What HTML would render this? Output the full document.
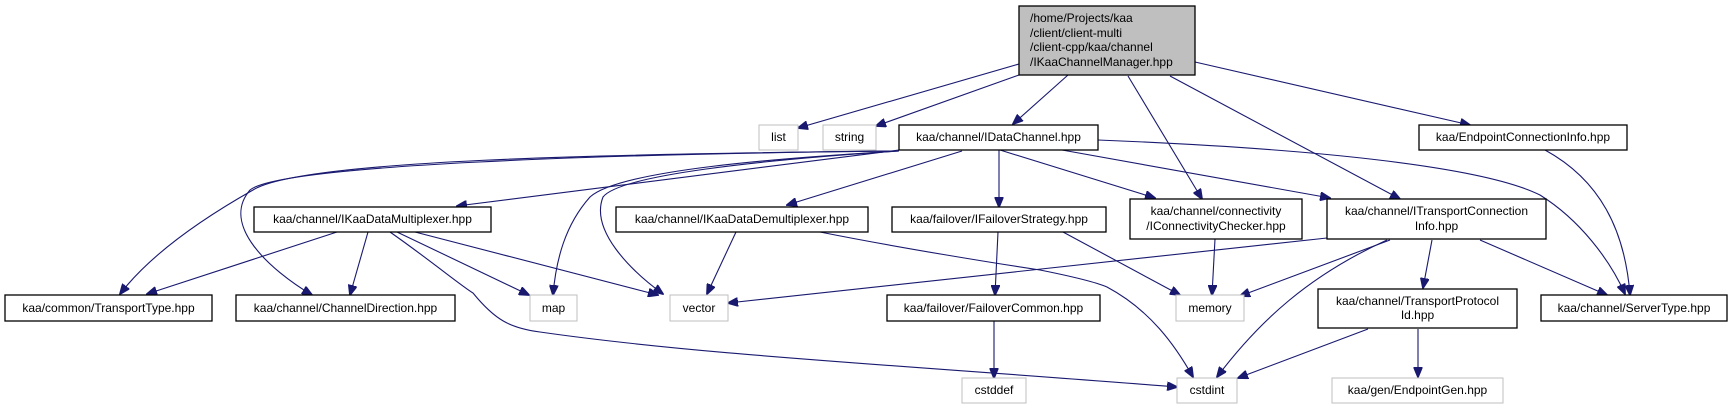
<!DOCTYPE html>
<html><head><meta charset="utf-8"><style>
html,body{margin:0;padding:0;background:#fff;}
svg{display:block;}
text{font-family:"Liberation Sans",sans-serif;font-size:12px;fill:#000;}
.n{fill:#fff;stroke:#000;stroke-width:1.3;}
.g{fill:#fff;stroke:#bfbfbf;stroke-width:1;}
.e{fill:none;stroke:#191970;stroke-width:1.1;}
</style></head><body>
<svg width="1732" height="409" viewBox="0 0 1732 409" xmlns="http://www.w3.org/2000/svg">
<defs><marker id="a" markerWidth="11" markerHeight="9" refX="10" refY="4.5" orient="auto" markerUnits="userSpaceOnUse"><path d="M0,0 L11,4.5 L0,9 z" fill="#191970" stroke="#191970"/></marker></defs>
<g marker-end="url(#a)">
<path class="e" d="M1019,64 L798,128"/>
<path class="e" d="M1019,75 L876,126"/>
<path class="e" d="M1068,75 L1013,124"/>
<path class="e" d="M1128,76 L1202,199"/>
<path class="e" d="M1170,76 L1400,199"/>
<path class="e" d="M1195,62 L1470,125"/>
<path class="e" d="M1098,140 C1300,148 1480,165 1540,195 C1580,220 1610,260 1625,294"/>
<path class="e" d="M1000,150 L1155,198"/>
<path class="e" d="M1062,150 L1330,198"/>
<path class="e" d="M999,150 L999,207"/>
<path class="e" d="M962,151 L787,205"/>
<path class="e" d="M899,150 L457,206"/>
<path class="e" d="M899,151 C780,158 620,170 590,197 C565,225 556,260 553,295"/>
<path class="e" d="M899,151 C760,160 620,175 603,197 C590,230 630,270 663,294"/>
<path class="e" d="M899,151 C600,154 300,160 253,190 C200,220 150,255 120,294"/>
<path class="e" d="M899,151 C600,154 280,165 250,190 C220,225 270,270 312,295"/>
<path class="e" d="M337,232 L147,294"/>
<path class="e" d="M368,232 L350,295"/>
<path class="e" d="M397,232 L529,295"/>
<path class="e" d="M415,232 L658,295"/>
<path class="e" d="M390,232 C430,260 460,285 473,293 C495,320 510,328 540,332 C700,355 900,365 1177,387"/>
<path class="e" d="M736,232 L707,294"/>
<path class="e" d="M820,232 C900,248 1000,264 1040,270 C1080,278 1100,284 1107,287 C1150,310 1175,345 1193,377"/>
<path class="e" d="M998,232 L995,295"/>
<path class="e" d="M1063,232 L1180,295"/>
<path class="e" d="M994,321 L994,378"/>
<path class="e" d="M1215,239 L1212,295"/>
<path class="e" d="M1327,238 L728,303"/>
<path class="e" d="M1390,240 L1240,296"/>
<path class="e" d="M1387,240 C1310,275 1260,320 1217,377"/>
<path class="e" d="M1432,240 L1423,288"/>
<path class="e" d="M1480,240 L1607,295"/>
<path class="e" d="M1368,329 L1238,378"/>
<path class="e" d="M1418,329 L1418,377"/>
<path class="e" d="M1545,150 C1600,180 1625,230 1630,295"/>
</g>
<rect x="1019" y="6" width="176" height="69" fill="#bfbfbf" stroke="#000" stroke-width="1.3"/>
<text x="1030" y="22">/home/Projects/kaa</text>
<text x="1030" y="37">/client/client-multi</text>
<text x="1030" y="51">/client-cpp/kaa/channel</text>
<text x="1030" y="66">/IKaaChannelManager.hpp</text>
<rect class="g" x="759" y="125" width="39" height="25"/><text x="778.5" y="141" text-anchor="middle">list</text>
<rect class="g" x="823" y="125" width="53" height="25"/><text x="849.5" y="141" text-anchor="middle">string</text>
<rect class="n" x="899" y="125" width="199" height="25"/><text x="998.5" y="141" text-anchor="middle">kaa/channel/IDataChannel.hpp</text>
<rect class="n" x="1419" y="125" width="208" height="25"/><text x="1523" y="141" text-anchor="middle">kaa/EndpointConnectionInfo.hpp</text>
<rect class="n" x="254" y="207" width="237" height="25"/><text x="372.5" y="223" text-anchor="middle">kaa/channel/IKaaDataMultiplexer.hpp</text>
<rect class="n" x="616" y="207" width="252" height="25"/><text x="742" y="223" text-anchor="middle">kaa/channel/IKaaDataDemultiplexer.hpp</text>
<rect class="n" x="892" y="207" width="214" height="25"/><text x="999" y="223" text-anchor="middle">kaa/failover/IFailoverStrategy.hpp</text>
<rect class="n" x="1130" y="199" width="172" height="40"/><text x="1216" y="215" text-anchor="middle">kaa/channel/connectivity</text><text x="1216" y="230" text-anchor="middle">/IConnectivityChecker.hpp</text>
<rect class="n" x="1327" y="199" width="219" height="40"/><text x="1436.5" y="215" text-anchor="middle">kaa/channel/ITransportConnection</text><text x="1436.5" y="230" text-anchor="middle">Info.hpp</text>
<rect class="n" x="5" y="295" width="207" height="26"/><text x="108.5" y="312" text-anchor="middle">kaa/common/TransportType.hpp</text>
<rect class="n" x="236" y="295" width="219" height="26"/><text x="345.5" y="312" text-anchor="middle">kaa/channel/ChannelDirection.hpp</text>
<rect class="g" x="530" y="295" width="47" height="26"/><text x="553.5" y="312" text-anchor="middle">map</text>
<rect class="g" x="670" y="295" width="58" height="26"/><text x="699" y="312" text-anchor="middle">vector</text>
<rect class="n" x="887" y="295" width="213" height="26"/><text x="993.5" y="312" text-anchor="middle">kaa/failover/FailoverCommon.hpp</text>
<rect class="g" x="1176" y="295" width="68" height="26"/><text x="1210" y="312" text-anchor="middle">memory</text>
<rect class="n" x="1318" y="289" width="199" height="39"/><text x="1417.5" y="305" text-anchor="middle">kaa/channel/TransportProtocol</text><text x="1417.5" y="319" text-anchor="middle">Id.hpp</text>
<rect class="n" x="1541" y="295" width="186" height="26"/><text x="1634" y="312" text-anchor="middle">kaa/channel/ServerType.hpp</text>
<rect class="g" x="962" y="378" width="64" height="25"/><text x="994" y="394" text-anchor="middle">cstddef</text>
<rect class="g" x="1177" y="378" width="60" height="25"/><text x="1207" y="394" text-anchor="middle">cstdint</text>
<rect class="g" x="1332" y="378" width="171" height="25"/><text x="1417.5" y="394" text-anchor="middle">kaa/gen/EndpointGen.hpp</text>
</svg>
</body></html>
